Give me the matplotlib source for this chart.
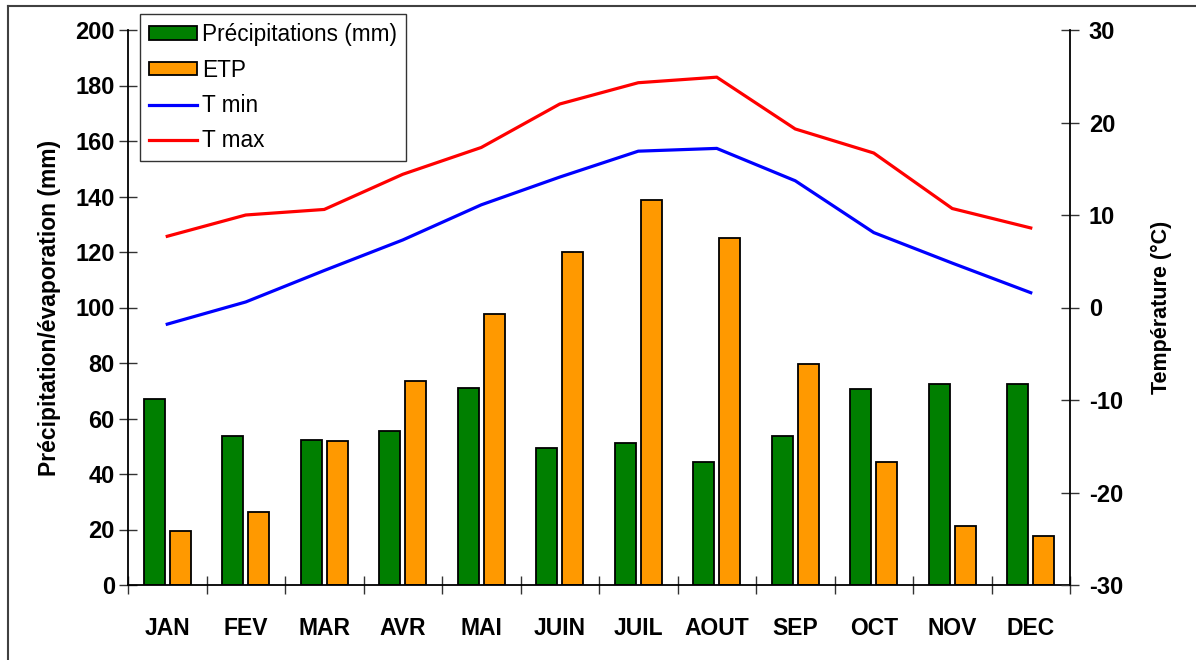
#!/usr/bin/env python3

import matplotlib
matplotlib.use("Agg")
import matplotlib.pyplot as plt
from matplotlib.lines import Line2D
import numpy as np

plt.rcParams["font.family"] = ["Liberation Sans", "DejaVu Sans"]
plt.rcParams["axes.unicode_minus"] = False

months = ["JAN", "FEV", "MAR", "AVR", "MAI", "JUIN", "JUIL", "AOUT", "SEP", "OCT", "NOV", "DEC"]
precip = [67.2, 53.6, 52.3, 55.6, 71.0, 49.2, 51.2, 44.4, 53.7, 70.5, 72.4, 72.4]
etp = [19.5, 26.2, 51.8, 73.5, 97.8, 120.0, 138.8, 125.0, 79.8, 44.4, 21.4, 17.7]
t_min = [-1.8, 0.6, 4.0, 7.3, 11.1, 14.1, 16.9, 17.2, 13.7, 8.1, 4.8, 1.6]
t_max = [7.7, 10.0, 10.6, 14.4, 17.3, 22.0, 24.3, 24.9, 19.3, 16.7, 10.7, 8.6]

GREEN = "#007F00"
ORANGE = "#FF9900"

fig = plt.figure(figsize=(11.96, 6.6), dpi=100)
ax = fig.add_axes([128 / 1196, 1 - 585 / 660, 942 / 1196, 555 / 660])
ax2 = ax.twinx()

x = np.arange(len(months))
w = 0.27
off = 0.167
ax.bar(x - off, precip, width=w, color=GREEN, edgecolor="black", linewidth=1.3, zorder=2)
ax.bar(x + off, etp, width=w, color=ORANGE, edgecolor="black", linewidth=1.3, zorder=2)

ax2.plot(x, t_min, color="#0000FF", linewidth=2.3, solid_joinstyle="miter")
ax2.plot(x, t_max, color="#FF0000", linewidth=2.3, solid_joinstyle="miter")

ax.set_xlim(-0.5, 11.5)
ax.set_ylim(0, 200)
ax2.set_ylim(-30, 30)
ax.set_yticks(range(0, 201, 20))
ax2.set_yticks(range(-30, 31, 10))

# month labels between crossing ticks at category boundaries
ax.set_xticks(x)
ax.set_xticklabels(months, fontsize=16.5, fontweight="bold")
ax.tick_params(axis="x", length=0, pad=23)
ax.set_xticks(np.arange(-0.5, 12, 1), minor=True)
ax.tick_params(axis="x", which="minor", direction="inout", length=13, width=1, color="#333333")

ax.tick_params(axis="y", direction="inout", length=13, width=1, color="#333333", pad=3, labelsize=17)
ax2.tick_params(axis="y", direction="inout", length=13, width=1, color="#333333", pad=7, labelsize=17)
for lab in ax.get_yticklabels() + ax2.get_yticklabels():
    lab.set_fontweight("bold")

for s in ["top", "right"]:
    ax.spines[s].set_visible(False)
for s in ["top", "left", "bottom"]:
    ax2.spines[s].set_visible(False)
for s in ["left", "bottom"]:
    ax.spines[s].set_linewidth(1.3)
ax2.spines["right"].set_linewidth(1.3)

ax.set_ylabel("Précipitation/évaporation (mm)", fontsize=16.5, fontweight="bold", labelpad=10)
ax2.set_ylabel("Température (°C)", fontsize=15.5, fontweight="bold", labelpad=20)

handles = [
    plt.Rectangle((0, 0), 1, 1, facecolor=GREEN, edgecolor="black", linewidth=1.3),
    plt.Rectangle((0, 0), 1, 1, facecolor=ORANGE, edgecolor="black", linewidth=1.3),
    Line2D([0], [0], color="#0000FF", linewidth=2.3),
    Line2D([0], [0], color="#FF0000", linewidth=2.3),
]
labels = ["Précipitations (mm)", "ETP", "T min", "T max"]
leg = ax2.legend(handles, labels, loc="upper left", bbox_to_anchor=(140 / 1196, 1 - 14 / 660),
                 bbox_transform=fig.transFigure, fontsize=16.3, frameon=True, fancybox=False,
                 edgecolor="#333333", framealpha=1, handlelength=2.1, handleheight=0.55,
                 handletextpad=0.25, labelspacing=0.55, borderpad=0.4, borderaxespad=0)
leg.get_frame().set_linewidth(1.0)

# outer chart frame
fig.add_artist(Line2D([8 / 1196, 8 / 1196], [0, 1 - 6 / 660], transform=fig.transFigure,
                      color="#404040", linewidth=1.5))
fig.add_artist(Line2D([8 / 1196, 1], [1 - 6 / 660, 1 - 6 / 660], transform=fig.transFigure,
                      color="#404040", linewidth=1.5))

plt.savefig("out.png", dpi=100)
